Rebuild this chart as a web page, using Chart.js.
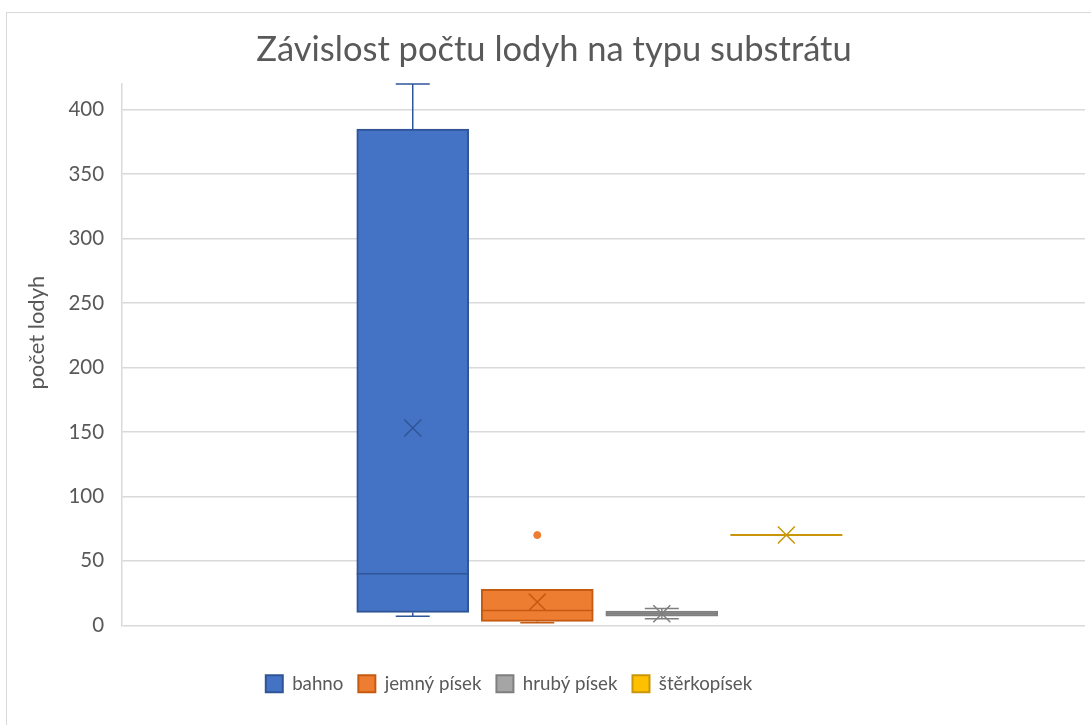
<!DOCTYPE html>
<html lang="cs">
<head>
<meta charset="utf-8">
<title>Závislost počtu lodyh na typu substrátu</title>
<script src="https://cdn.jsdelivr.net/npm/chart.js@4"></script>
<style>
  html, body { margin: 0; padding: 0; background: #fff; }
  #wrap { position: relative; width: 1091px; height: 725px; overflow: hidden; }
  #frame { position: absolute; left: 6px; top: 12px; width: 1110px; height: 740px; border: 1px solid #d9d9d9; }
  canvas { position: absolute; left: 0; top: 0; }
</style>
</head>
<body>
<div id="wrap">
  <div id="frame"></div>
  <canvas id="boxChart" width="1091" height="725"></canvas>
</div>
<script>
// Box & whisker values
const series   = ['bahno', 'jemný písek', 'hrubý písek', 'štěrkopísek'];
const mins     = [7,   2,    5,  70];
const q1s      = [10,  3,    7,  70];
const medians  = [40,  11.5, 9,  70];
const q3s      = [385, 28,   11, 70];
const maxs     = [420, 28,   13, 70];
const means    = [153, 18,   9,  70];
const outliers = [[], [70], [], []];
const yTicks   = [0, 50, 100, 150, 200, 250, 300, 350, 400];

const fills   = ['#4472C4', '#ED7D31', '#A5A5A5', '#FFC000'];
const borders = ['#2F5597', '#C55A11', '#7F7F7F', '#C9960A'];
const FONT = 'Lato, "Open Sans", sans-serif';
const TEXT = '#595959';

const boxSets = series.map((name, i) => ({
    type: 'bar',
    label: name,
    data: [{ x: i, y: [q1s[i], q3s[i]] }],
    backgroundColor: fills[i],
    borderColor: borders[i],
    borderWidth: 2,
    borderSkipped: false,
    barThickness: 112,
    grouped: false,
    order: 3
}));

const whiskerSets = series.map((name, i) => ({
    type: 'line',
    data: [
        { x: i, y: maxs[i] }, { x: i, y: q3s[i] }, { x: i, y: null },
        { x: i, y: q1s[i] }, { x: i, y: mins[i] }
    ],
    borderColor: borders[i],
    borderWidth: 1.5,
    pointRadius: 0,
    clip: false,
    order: 4
}));

// whisker caps, only where the whisker sticks out of the box
const capSets = series.map((name, i) => ({
    type: 'line',
    data: [{ x: i, y: mins[i] }, { x: i, y: maxs[i] }],
    showLine: false,
    pointStyle: 'line',
    pointRadius: [mins[i] < q1s[i] ? 17 : 0, maxs[i] > q3s[i] ? 17 : 0],
    pointBorderWidth: 1.5,
    pointBorderColor: borders[i],
    clip: false,
    order: 4
}));

const medianSet = {
    type: 'line',
    data: series.map((s, i) => ({ x: i, y: medians[i] })),
    showLine: false,
    pointStyle: 'line',
    pointRadius: 56,
    pointBorderWidth: [1.5, 1.5, 1.5, 2],
    pointBorderColor: borders,
    clip: false,
    order: 2
};

const meanSet = {
    type: 'line',
    data: series.map((s, i) => ({ x: i, y: means[i] })),
    showLine: false,
    pointStyle: 'crossRot',
    pointRadius: 12,
    pointBorderWidth: 1.5,
    pointBorderColor: borders,
    clip: false,
    order: 1
};

const outlierSet = {
    type: 'line',
    data: outliers.flatMap((vals, i) => vals.map(v => ({ x: i, y: v }))),
    showLine: false,
    pointStyle: 'circle',
    pointRadius: 3.5,
    pointBorderWidth: 1,
    pointBackgroundColor: outliers.flatMap((vals, i) => vals.map(() => fills[i])),
    pointBorderColor: outliers.flatMap((vals, i) => vals.map(() => fills[i])),
    clip: false,
    order: 1
};

// legend in the original sits a bit left of the title
const legendShift = {
    id: 'legendShift',
    afterLayout(chart) {
        chart.legend.left -= 45;
        chart.legend.right -= 45;
    }
};

new Chart(document.getElementById('boxChart'), {
    type: 'bar',
    data: {
        datasets: [...boxSets, ...whiskerSets, ...capSets, medianSet, meanSet, outlierSet]
    },
    plugins: [legendShift],
    options: {
        responsive: false,
        animation: false,
        events: [],
        layout: { autoPadding: false, padding: { left: 23, right: 6, top: 29, bottom: 22 } },
        plugins: {
            title: {
                display: true,
                text: 'Závislost počtu lodyh na typu substrátu',
                color: TEXT,
                font: { family: FONT, size: 34.5, weight: 'normal' },
                padding: { top: 0, bottom: 13.5 }
            },
            legend: {
                position: 'bottom',
                title: { display: true, text: '', font: { size: 10 }, padding: 11 },
                labels: {
                    filter: item => item.datasetIndex < series.length,
                    boxWidth: 17,
                    boxHeight: 17,
                    padding: 15,
                    color: TEXT,
                    font: { family: FONT, size: 18.7 }
                }
            },
            tooltip: { enabled: false }
        },
        scales: {
            x: { type: 'linear', display: false, offset: false, min: -2.334, max: 5.398 },
            y: {
                min: 0,
                max: 420,
                stacked: false,
                afterBuildTicks: scale => { scale.ticks = yTicks.map(v => ({ value: v })); },
                ticks: { color: TEXT, font: { family: FONT, size: 20.5 }, padding: 18 },
                grid: { color: '#d9d9d9', lineWidth: 1.5, drawTicks: false },
                border: { color: '#d9d9d9', width: 1.5 },
                title: {
                    display: true,
                    // leading en spaces lift the rotated title a little, as in the original
                    text: '\u2002\u2002\u2002\u2002počet lodyh',
                    color: TEXT,
                    font: { family: FONT, size: 22 },
                    padding: { top: 1, bottom: 0 }
                }
            }
        }
    }
});
</script>
</body>
</html>
